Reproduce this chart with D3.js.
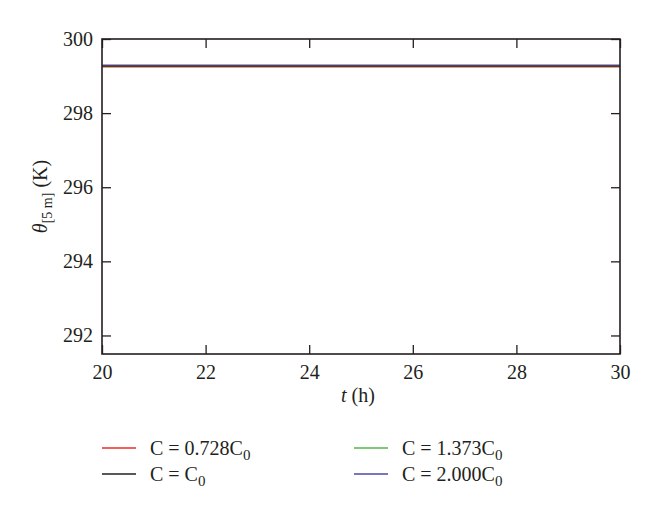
<!DOCTYPE html>
<html>
<head>
<meta charset="utf-8">
<script src="https://d3js.org/d3.v7.min.js"></script>
<style>
  body { margin: 0; background: #fff; }
  svg text { font-family: "Liberation Serif", "DejaVu Serif", serif; fill: #231f20; }
</style>
</head>
<body>
<script>
// data
const hours = [20, 22, 24, 26, 28, 30];
const thetaRed = [299.26, 299.26, 299.26, 299.26, 299.26, 299.26];
const thetaBlack = [299.26, 299.26, 299.26, 299.26, 299.26, 299.26];
const thetaGreen = [299.28, 299.28, 299.28, 299.28, 299.28, 299.28];
const thetaBlue = [299.29, 299.29, 299.29, 299.29, 299.29, 299.29];
const xTicks = [20, 22, 24, 26, 28, 30];
const yTicks = [292, 294, 296, 298, 300];
const seriesNames = ["0.728", "1", "1.373", "2.000"];

const serif = "Liberation Serif, DejaVu Serif, serif";

const series = [
  { name: seriesNames[0], values: thetaRed, color: "#ee2a24" },
  { name: seriesNames[2], values: thetaGreen, color: "#52b848" },
  { name: seriesNames[3], values: thetaBlue, color: "#4b4aa8" },
  { name: seriesNames[1], values: thetaBlack, color: "#5b3a1a" }
];

let margin = { top: 39, left: 102, bottom: 164, right: 40 };
let width = 660 - margin.left - margin.right;
let height = 518 - margin.top - margin.bottom;

const svg = d3.select("body").append("svg")
  .attr("width", 660)
  .attr("height", 518)
  .append("g")
  .attr("transform", `translate(${margin.left}, ${margin.top})`);

const x = d3.scaleLinear().domain([20, 30]).range([0, width]);
const y = d3.scaleLinear().domain([291.5, 300]).range([height, 0]);

// series lines
const line = d3.line()
  .x((d, i) => x(hours[i]))
  .y(d => y(d));

series.forEach(s => {
  svg.append("path")
    .datum(s.values)
    .attr("d", line)
    .style("fill", "none")
    .style("stroke", s.color)
    .style("stroke-width", 1.6);
});

// axes, ticks pointing inward on all sides
const tickLen = 9;
function styleAxis(g) {
  g.attr("font-family", serif).attr("font-size", 20);
  g.select(".domain").remove();
  g.selectAll(".tick line").style("stroke", "#231f20").style("stroke-width", 1.3);
  g.selectAll(".tick text").attr("font-family", serif).style("font-size", "20px");
}
svg.append("g")
  .attr("transform", `translate(0, ${height})`)
  .call(d3.axisBottom(x).tickValues(xTicks).tickSizeInner(-tickLen).tickSizeOuter(0).tickPadding(11))
  .call(styleAxis);
svg.append("g")
  .call(d3.axisTop(x).tickValues(xTicks).tickSizeInner(-tickLen).tickSizeOuter(0).tickFormat(""))
  .call(styleAxis);
svg.append("g")
  .call(d3.axisLeft(y).tickValues(yTicks).tickSizeInner(-tickLen).tickSizeOuter(0).tickPadding(9))
  .call(styleAxis);
svg.append("g")
  .attr("transform", `translate(${width}, 0)`)
  .call(d3.axisRight(y).tickValues(yTicks).tickSizeInner(-tickLen).tickSizeOuter(0).tickFormat(""))
  .call(styleAxis);

// frame
svg.append("rect")
  .attr("width", width)
  .attr("height", height)
  .style("fill", "none")
  .style("stroke", "#231f20")
  .style("stroke-width", 1.6);

// axis titles
const xt = svg.append("text")
  .attr("x", width / 2 - 3)
  .attr("y", height + 48)
  .style("text-anchor", "middle")
  .style("font-size", "20px");
xt.append("tspan").style("font-style", "italic").text("t");
xt.append("tspan").text(" (h)");

const yt = svg.append("text")
  .attr("transform", `translate(${-55}, ${height / 2}) rotate(-90)`)
  .style("text-anchor", "middle")
  .style("font-size", "20px");
yt.append("tspan").style("font-style", "italic").text("θ");
yt.append("tspan").attr("dy", 5).style("font-size", "14px").text("[5 m]");
yt.append("tspan").attr("dy", -5).text(" (K)");

// legend
const legendItems = [
  { label: seriesNames[0], color: "#ee2a24", col: 0, row: 0 },
  { label: null, color: "#231f20", col: 0, row: 1 },
  { label: seriesNames[2], color: "#52b848", col: 1, row: 0 },
  { label: seriesNames[3], color: "#4b4aa8", col: 1, row: 1 }
];

const legend = svg.append("g").attr("class", "legend");
legendItems.forEach(d => {
  const lx = d.col * 252;
  const ly = height + 94 + d.row * 26;
  legend.append("line")
    .attr("x1", lx).attr("x2", lx + 34)
    .attr("y1", ly).attr("y2", ly)
    .style("stroke", d.color)
    .style("stroke-width", 1.4);
  const t = legend.append("text")
    .attr("x", lx + 48)
    .attr("y", ly + 7)
    .style("font-size", "20px");
  t.append("tspan").text("C = " + (d.label ? d.label : "") + "C");
  t.append("tspan").attr("dy", 5).style("font-size", "15px").text("0");
});
</script>
</body>
</html>
